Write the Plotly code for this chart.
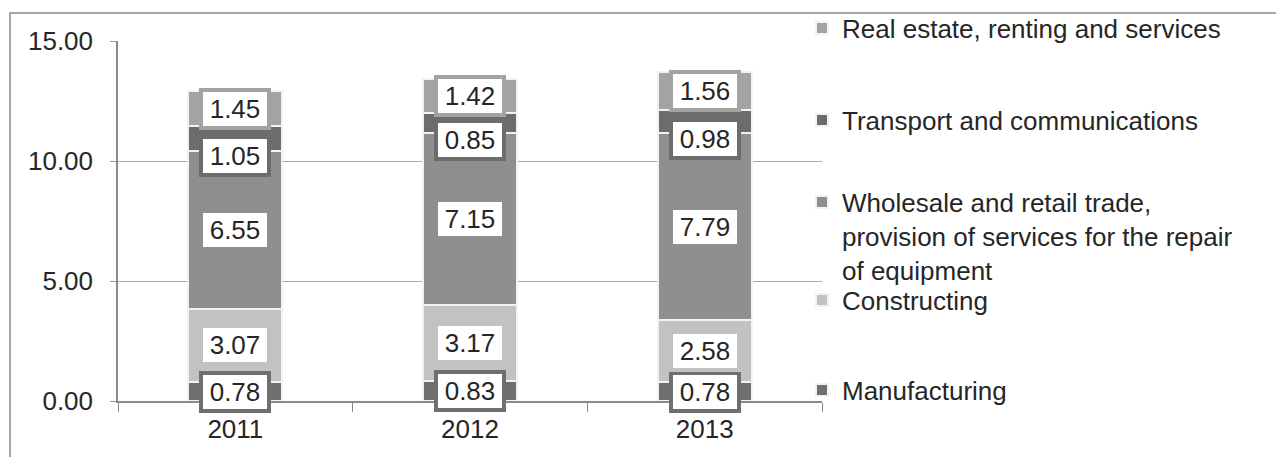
import plotly.graph_objects as go

years = ["2011", "2012", "2013"]
series_names = [
    "Manufacturing",
    "Constructing",
    "Wholesale and retail trade,<br>provision of services for the repair<br>of equipment",
    "Transport and communications",
    "Real estate, renting and services",
]
manufacturing = [0.78, 0.83, 0.78]
constructing = [3.07, 3.17, 2.58]
wholesale = [6.55, 7.15, 7.79]
transport = [1.05, 0.85, 0.98]
real_estate = [1.45, 1.42, 1.56]
y_ticks = [0, 5, 10, 15]
y_tick_labels = ["0.00", "5.00", "10.00", "15.00"]

values = [manufacturing, constructing, wholesale, transport, real_estate]
colors = ["#6f6f6f", "#c2c2c2", "#8f8f8f", "#6c6c6c", "#a3a3a3"]
label_shift = [0, 0, 0, -17, 0]
FONT = "Liberation Sans, Arial, sans-serif"
TXT = "#262626"

fig = go.Figure()
legend_ids = ["legend5", "legend4", "legend3", "legend2", "legend"]
for i, (name, vals) in enumerate(zip(series_names, values)):
    fig.add_trace(go.Bar(
        x=years, y=vals, name=name, showlegend=True, orientation="v",
        marker=dict(color=colors[i], line=dict(color="#f2f2f2", width=2)),
        legend=legend_ids[i],
    ))

# data labels at segment centres (category axis: x given as category index)
for j, yr in enumerate(years):
    base = 0.0
    for i, vals in enumerate(values):
        v = vals[j]
        fig.add_annotation(
            x=j, y=base + v / 2, xref="x", yref="y",
            text=f"{v:.2f}", showarrow=False,
            font=dict(family=FONT, size=26, color=TXT),
            bgcolor="white", bordercolor=colors[i], borderwidth=4, borderpad=3,
            width=58, height=28, yshift=label_shift[i],
        )
        base += v

# outer chart border
fig.add_shape(type="rect", xref="paper", yref="paper",
              x0=(10 - 118) / 704, x1=(1300 - 118) / 704,
              y0=(401 - 480) / 360, y1=(401 - 13) / 360,
              line=dict(color="#8a8a8a", width=1.5), fillcolor="rgba(0,0,0,0)", layer="below")

def leg(y, yanchor="middle"):
    return dict(x=(802 - 118) / 704, y=y, xanchor="left", yanchor=yanchor,
                font=dict(family=FONT, size=26, color=TXT), valign="top",
                bgcolor="rgba(0,0,0,0)", itemwidth=30)

fig.update_layout(
    width=1276, height=457,
    margin=dict(l=118, r=454, t=41, b=56, autoexpand=False),
    paper_bgcolor="white", plot_bgcolor="white",
    barmode="stack", bargap=0.6,
    font=dict(family=FONT, size=26, color=TXT),
    legend=leg((401 - 28) / 360),
    legend2=leg((401 - 120) / 360),
    legend3=leg((401 - 236) / 360),
    legend4=leg((401 - 300) / 360),
    legend5=leg((401 - 390) / 360),
    xaxis=dict(type="category", categoryorder="array", categoryarray=years,
               range=[-0.5, len(years) - 0.5],
               showline=True, linecolor="#8a8a8a", linewidth=1.5,
               ticks="outside", tickson="boundaries", ticklen=9, tickcolor="#8a8a8a",
               ticklabelstandoff=4,
               tickfont=dict(family=FONT, size=26, color=TXT), showgrid=False),
    yaxis=dict(range=[0, 15], tickvals=y_ticks, ticktext=y_tick_labels,
               showline=True, linecolor="#8a8a8a", linewidth=1.5,
               ticks="outside", ticklen=6, tickcolor="#9a9a9a",
               showgrid=True, gridcolor="#a8a8a8", gridwidth=1.2,
               zeroline=False, ticklabelstandoff=12,
               tickfont=dict(family=FONT, size=26, color=TXT)),
)

fig.write_html("out.html")
